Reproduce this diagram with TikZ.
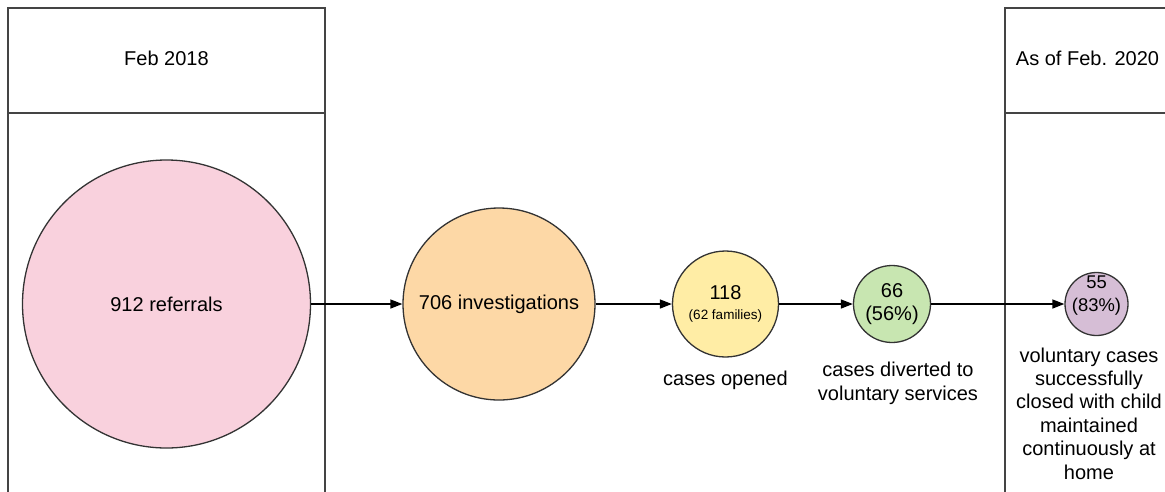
\documentclass[tikz,border=0pt]{standalone}
\usepackage{fontspec}
\setmainfont{Liberation Sans}
\usetikzlibrary{arrows.meta}

\definecolor{pinkfill}{HTML}{F9D1DD}
\definecolor{orangefill}{HTML}{FDD8A6}
\definecolor{yellowfill}{HTML}{FFEDA5}
\definecolor{greenfill}{HTML}{C8E6B1}
\definecolor{purplefill}{HTML}{D6BED6}
\definecolor{edgegray}{HTML}{333333}
\definecolor{lanegray}{HTML}{444444}

\tikzset{
  stage/.style={circle, draw=edgegray, line width=1.3pt, inner sep=0pt, align=center,
    font=\fontsize{20}{23.5}\selectfont},
  caption/.style={align=center, font=\fontsize{20}{23.4}\selectfont},
  lane/.style={draw=lanegray, line width=1.5pt},
  flow/.style={line width=1.4pt, -{Triangle[length=12pt,width=9pt]}}
}

\begin{document}
\begin{tikzpicture}[x=1pt, y=-1pt]
    % Page frame
    \useasboundingbox (0,0) rectangle (1165,491);
    \clip (0,0) rectangle (1165,491);

    % Time lanes
    \draw[lane] (8,8) rectangle (325,520);
    \draw[lane] (8,113) -- (325,113);
    \draw[lane] (1005,8) rectangle (1200,520);
    \draw[lane] (1005,113) -- (1200,113);
    \node[caption] (start) at (166.5,58) {Feb 2018};
    \node[caption] (finish) at (1087.5,58) {As of Feb. 2020};

    % Stages of the funnel
    \node[stage, fill=pinkfill, minimum size=288pt] (referrals) at (166.5,304) {912 referrals};
    \node[stage, fill=orangefill, minimum size=192pt] (investigations) at (499,304) {706 investigations};
    \node[stage, fill=yellowfill, minimum size=106pt] (opened) at (725.5,304)
        {118\\[-3pt]{\fontsize{13.5}{15}\selectfont (62 families)}};
    \node[stage, fill=greenfill, minimum size=77pt] (diverted) at (892,304) {66\\(56\%)};
    \node[stage, fill=purplefill, minimum size=63pt,
        label={[align=center, yshift=8pt, font=\fontsize{18.4}{23}\selectfont]center:55\\(83\%)}]
        (closed) at (1096.5,304) {};

    % Stage captions
    \node[caption] (openedtext) at (725.5,380) {cases opened};
    \node[caption] (divertedtext) at (898,383.5) {cases diverted to\\voluntary services};
    \node[caption] (closedtext) at (1089,413.5)
        {voluntary cases\\successfully\\closed with child\\maintained\\continuously at\\home};

    % Flow between stages
    \draw[flow] (referrals) -- (investigations);
    \draw[flow] (investigations) -- (opened);
    \draw[flow] (opened) -- (diverted);
    \draw[flow] (diverted) -- (closed);
\end{tikzpicture}
\end{document}
